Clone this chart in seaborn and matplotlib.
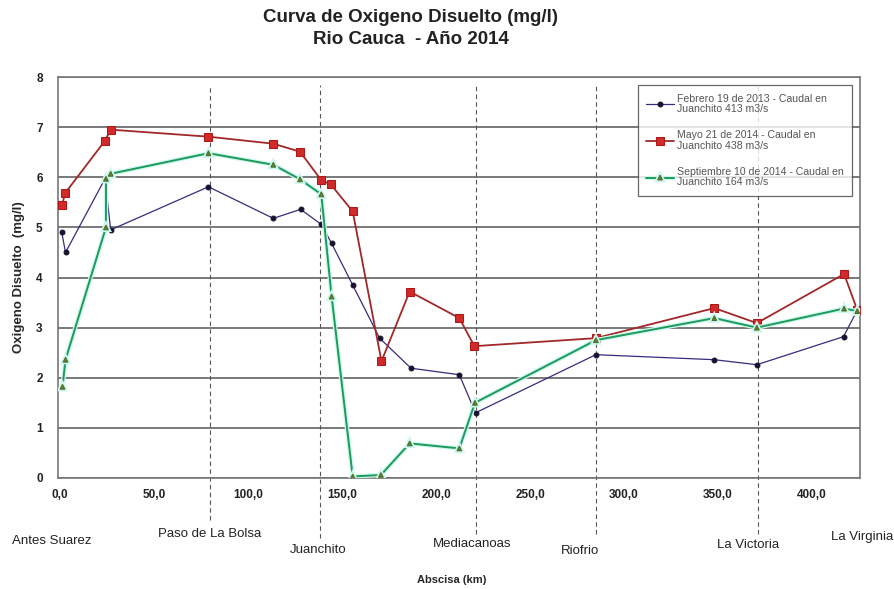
import numpy as np
import pandas as pd
import matplotlib
matplotlib.use("Agg")
import matplotlib.pyplot as plt
import matplotlib.patheffects as pe
import seaborn as sns

# Abscisa (km) and oxygen values
feb_km = [1, 3, 24, 27, 79, 113.5, 128, 139, 144.5, 155.7, 170, 186.7, 212.4, 221, 285, 348, 370.6, 416.7, 424]
feb_od = [4.90, 4.50, 5.97, 4.95, 5.81, 5.18, 5.36, 5.06, 4.68, 3.85, 2.79, 2.19, 2.06, 1.30, 2.46, 2.36, 2.26, 2.82, 3.35]

may_km = [1.2, 2.7, 24, 27, 79, 113.5, 127.7, 139, 144, 155.7, 171, 186, 212.4, 220.4, 285, 348, 370.6, 417, 424]
may_od = [5.44, 5.68, 6.73, 6.95, 6.81, 6.67, 6.51, 5.94, 5.86, 5.32, 2.33, 3.72, 3.19, 2.63, 2.79, 3.39, 3.09, 4.07, 3.35]

sep_km = [1.4, 3, 24.5, 24.5, 27, 79, 113.5, 127.7, 139, 144.5, 155.7, 170.7, 186, 212.4, 220.7, 285, 348, 370.6, 417, 424]
sep_od = [1.82, 2.36, 5.00, 5.97, 6.07, 6.48, 6.25, 5.96, 5.66, 3.62, 0.03, 0.06, 0.69, 0.59, 1.50, 2.75, 3.19, 3.00, 3.38, 3.33]

series_names = ["Febrero 19 de 2013 - Caudal en\nJuanchito 413 m3/s",
                "Mayo 21 de 2014 - Caudal en\nJuanchito 438 m3/s",
                "Septiembre 10 de 2014 - Caudal en\nJuanchito 164 m3/s"]

stations = ["Antes Suarez", "Paso de La Bolsa", "Juanchito", "Mediacanoas", "Riofrio", "La Victoria", "La Virginia"]
station_km = [None, 79.8, 138.5, 221, 285, 371, None]

x_ticks = [0, 50, 100, 150, 200, 250, 300, 350, 400]
x_ticklabels = ["0,0", "50,0", "100,0", "150,0", "200,0", "250,0", "300,0", "350,0", "400,0"]

sns.set_style("white")
plt.rcParams["font.family"] = ["Liberation Sans", "DejaVu Sans"]

fig = plt.figure(figsize=(8.95, 5.89), dpi=100)
ax = fig.add_axes([0.0648, 0.1885, 0.8962, 0.6807])

# horizontal grid
for v in range(0, 9):
    ax.axhline(v, color="#555555", lw=1.1, zorder=1)

# station dashed lines (extend below the axis)
line_bottoms = [None, -0.105, -0.15, -0.14, -0.14, -0.14, None]
for km, yb in zip(station_km, line_bottoms):
    if km is None:
        continue
    ax.axvline(km, ymin=yb, ymax=0.98, color="#555555", lw=0.8, ls=(0, (4, 3)),
               clip_on=False, zorder=1)

df = pd.concat([
    pd.DataFrame({"km": feb_km, "od": feb_od, "serie": series_names[0]}),
    pd.DataFrame({"km": may_km, "od": may_od, "serie": series_names[1]}),
    pd.DataFrame({"km": sep_km, "od": sep_od, "serie": series_names[2]}),
], ignore_index=True)

styles = {
    series_names[0]: dict(color="#3b2a7a", lw=0.9, marker="o", ms=3.5, mfc="#1a1030", mec="#1a1030"),
    series_names[1]: dict(color="#a02828", lw=1.3, marker="s", ms=6, mfc="#d02a2a", mec="#b01818"),
    series_names[2]: dict(color="#1e9a5a", lw=1.4, marker="^", ms=3.5, mfc="#5f7f35", mec="#4f6f2a"),
}

for name in series_names:
    st = styles[name]
    sub = df[df["serie"] == name]
    sns.lineplot(data=sub, x="km", y="od", ax=ax, sort=False, estimator=None,
                 color=st["color"], lw=st["lw"], marker=st["marker"], markersize=st["ms"],
                 markerfacecolor=st["mfc"], markeredgecolor=st["mec"], label=name, zorder=3)

# soft cyan halo on the September curve
ax.lines[-1].set_path_effects([pe.Stroke(linewidth=3.2, foreground="#cdf8f0"), pe.Normal()])

ax.set_xlim(-1, 425.5)
ax.set_ylim(0, 8)
ax.set_xticks(x_ticks)
ax.set_xticklabels(x_ticklabels)
ax.set_yticks(range(0, 9))
ax.tick_params(axis="both", length=0, labelsize=8.5, colors="#222222")
for lab in ax.get_xticklabels() + ax.get_yticklabels():
    lab.set_fontweight("bold")
ax.tick_params(axis="x", pad=8)
ax.tick_params(axis="y", pad=11)
for sp in ax.spines.values():
    sp.set_color("#777777")
    sp.set_linewidth(1.2)

ax.set_xlabel("")
ax.set_ylabel("Oxigeno Disuelto  (mg/l)", fontsize=9.5, fontweight="bold", labelpad=8)

leg = ax.legend(loc="upper left", bbox_to_anchor=(0.723, 0.98), fontsize=7.6, frameon=True,
                fancybox=False, edgecolor="#444444", handlelength=2.6, handletextpad=0.3,
                labelspacing=1.55, borderpad=0.8, borderaxespad=0)
leg.get_frame().set_linewidth(0.9)
for t in leg.get_texts():
    t.set_color("#555555")
    t.set_linespacing(1.05)

# station names under the axis (pixel positions from the reference)
label_px = [(52, 541), (210, 534), (318, 550), (472, 544), (580, 551), (748, 545), (862, 537)]
W, H = 895, 589
for name, (px, py) in zip(stations, label_px):
    fig.text(px / W, 1 - py / H, name, ha="center", va="center", fontsize=9.5, color="#222222")

fig.text(452 / W, 1 - 580 / H, "Abscisa (km)", ha="center", va="center", fontsize=8, fontweight="bold")
fig.text(411 / W, 1 - 17 / H, "Curva de Oxigeno Disuelto (mg/l)", ha="center", va="center",
         fontsize=13.5, fontweight="bold", color="#222222")
fig.text(411 / W, 1 - 40 / H, "Rio Cauca  - Año 2014", ha="center", va="center",
         fontsize=13.5, fontweight="bold", color="#222222")

fig.savefig("out.png", dpi=100)
